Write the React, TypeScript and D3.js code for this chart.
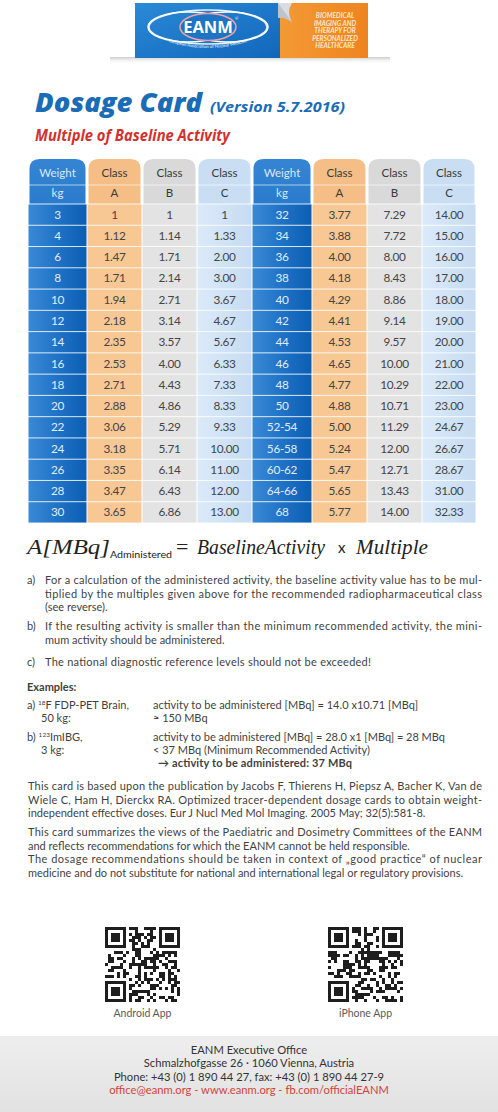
import { useMemo } from "react";
import * as d3 from "d3";

// table data (two halves of 15 rows)
const weights = ["3", "4", "6", "8", "10", "12", "14", "16", "18", "20", "22", "24", "26", "28", "30",
  "32", "34", "36", "38", "40", "42", "44", "46", "48", "50", "52-54", "56-58", "60-62", "64-66", "68"];
const classA = [1, 1.12, 1.47, 1.71, 1.94, 2.18, 2.35, 2.53, 2.71, 2.88, 3.06, 3.18, 3.35, 3.47, 3.65,
  3.77, 3.88, 4.0, 4.18, 4.29, 4.41, 4.53, 4.65, 4.77, 4.88, 5.0, 5.24, 5.47, 5.65, 5.77];
const classB = [1, 1.14, 1.71, 2.14, 2.71, 3.14, 3.57, 4.0, 4.43, 4.86, 5.29, 5.71, 6.14, 6.43, 6.86,
  7.29, 7.72, 8.0, 8.43, 8.86, 9.14, 9.57, 10.0, 10.29, 10.71, 11.29, 12.0, 12.71, 13.43, 14.0];
const classC = [1, 1.33, 2.0, 3.0, 3.67, 4.67, 5.67, 6.33, 7.33, 8.33, 9.33, 10.0, 11.0, 12.0, 13.0,
  14.0, 15.0, 16.0, 17.0, 18.0, 19.0, 20.0, 21.0, 22.0, 23.0, 24.67, 26.67, 28.67, 31.0, 32.33];
const headerTop = ["Weight", "Class", "Class", "Class"];
const headerBottom = ["kg", "A", "B", "C"];

const qrLabels = ["Android App", "iPhone App"];
const footerLines = [
  "EANM Executive Office",
  "Schmalzhofgasse 26  · 1060 Vienna, Austria",
  "Phone: +43 (0) 1 890 44 27, fax: +43 (0) 1 890 44 27-9",
  "office@eanm.org - www.eanm.org - fb.com/officialEANM",
];

const W = 498;
const H = 1112;
const SANS = "Lato, 'Open Sans', sans-serif";
const TITLE = "'Open Sans', Lato, sans-serif";
const SERIF = "'Liberation Serif', 'DejaVu Serif', serif";
const TXT = "#3f3f3f";

const fmt = (v: number) => (v === 1 ? "1" : v.toFixed(2));

function topRounded(x: number, y: number, w: number, h: number, r: number) {
  return `M${x},${y + h}V${y + r}Q${x},${y} ${x + r},${y}H${x + w - r}Q${x + w},${y} ${x + w},${y + r}V${y + h}Z`;
}

// deterministic module pattern for the QR code decoration
function qrModules(seed: number) {
  const n = 25;
  const cells: [number, number][] = [];
  const finder = (i: number, j: number) => {
    const inBox = (a: number, b: number) => {
      const di = i - a, dj = j - b;
      if (di < 0 || dj < 0 || di > 6 || dj > 6) return null;
      const ring = Math.min(di, dj, 6 - di, 6 - dj);
      return ring === 0 || ring >= 2;
    };
    for (const [a, b] of [[0, 0], [0, 18], [18, 0]]) {
      const r = inBox(a, b);
      if (r !== null) return r;
      if (i >= a - 1 && i <= a + 7 && j >= b - 1 && j <= b + 7) return false;
    }
    return null;
  };
  for (let i = 0; i < n; i++) {
    for (let j = 0; j < n; j++) {
      const f = finder(i, j);
      let on: boolean;
      if (f !== null) on = f;
      else {
        let h = (i * 374761393 + j * 668265263 + seed * 982451653) | 0;
        h = Math.imul(h ^ (h >>> 13), 1274126177);
        h ^= h >>> 16;
        on = (h & 7) < 4;
      }
      if (on) cells.push([i, j]);
    }
  }
  return cells;
}

function JText({ x, y, w, children, bold }: { x: number; y: number; w?: number; children: any; bold?: boolean }) {
  return (
    <text x={x} y={y} fontFamily={SANS} fontSize={11} fill={TXT} fontWeight={bold ? 700 : 400}
      {...(w ? { textLength: w, lengthAdjust: "spacing" } : {})}>
      {children}
    </text>
  );
}

export default function App() {
  const colW = [59, 55, 55, 55, 60, 55, 55, 54];
  const colX = [28, ...Array.from(d3.cumsum(colW)).map((s) => 28 + s)];
  const y = d3.scaleBand<number>().domain(d3.range(15)).range([204, 523]);
  const hdrTop = 159;
  const hdrBot = 204;

  const colFill = ["url(#gWeight)", "#f8c894", "#e3e3e3", "url(#gC)"];
  const hdrFill = ["url(#gWeightH)", "#f5be87", "#d9d9d9", "#c9def3"];

  const rows = useMemo(
    () => weights.map((w, i) => ({ w, a: classA[i], b: classB[i], c: classC[i], half: Math.floor(i / 15), r: i % 15 })),
    []
  );

  const qrA = useMemo(() => qrModules(3), []);
  const qrB = useMemo(() => qrModules(11), []);
  const qrPos = [105, 328];
  const qrTop = 927;
  const qs = 3;

  const arc = d3.path();
  arc.moveTo(158, 38);
  arc.quadraticCurveTo(208, 58, 258, 38);

  return (
    <svg width={W} height={H} viewBox={`0 0 ${W} ${H}`} style={{ position: "absolute", left: 0, top: 0, display: "block", background: "#fff" }}>
      <defs>
        <linearGradient id="gWeight" x1="0" x2="1" y1="0" y2="0">
          <stop offset="0" stopColor="#3a89d6" />
          <stop offset="0.5" stopColor="#1f72c6" />
          <stop offset="1" stopColor="#0c5eb3" />
        </linearGradient>
        <linearGradient id="gWeightH" x1="0" x2="0" y1="0" y2="1">
          <stop offset="0" stopColor="#3585d3" />
          <stop offset="1" stopColor="#2a7bcc" />
        </linearGradient>
        <linearGradient id="gC" x1="0" x2="1" y1="0" y2="0">
          <stop offset="0" stopColor="#dbeafa" />
          <stop offset="1" stopColor="#c6dcf2" />
        </linearGradient>
        <linearGradient id="gBlue" x1="0" x2="1" y1="0" y2="1">
          <stop offset="0" stopColor="#2a8ad8" />
          <stop offset="1" stopColor="#1266b9" />
        </linearGradient>
        <linearGradient id="gOrange" x1="0" x2="1" y1="0" y2="0">
          <stop offset="0" stopColor="#f39a35" />
          <stop offset="1" stopColor="#ee8420" />
        </linearGradient>
        <linearGradient id="gShadow" x1="0" x2="0" y1="0" y2="1">
          <stop offset="0" stopColor="#bdbdbd" stopOpacity="0.8" />
          <stop offset="1" stopColor="#ffffff" stopOpacity="0" />
        </linearGradient>
        <linearGradient id="gFooter" x1="0" x2="0" y1="0" y2="1">
          <stop offset="0" stopColor="#eeeeee" />
          <stop offset="1" stopColor="#e2e2e2" />
        </linearGradient>
        <path id="logoArc" d={arc.toString()} />
      </defs>

      {/* logo banner */}
      <rect x={110} y={57} width={280} height={7} fill="url(#gShadow)" />
      <rect x={135} y={3} width={146} height={55} fill="url(#gBlue)" />
      <rect x={280} y={3} width={88} height={55} fill="url(#gOrange)" />
      <path d="M278,3 L292,3 Q286,12 292,22 Q283,16 278,18 Z" fill="#d9dde3" />
      <path d="M278,3 L292,22 Q283,16 278,18 Z" fill="#aab4c0" opacity={0.6} />
      <g fill="none" stroke="#ffffff" strokeWidth={1.5}>
        <ellipse cx={188} cy={27} rx={40} ry={15} />
        <ellipse cx={228} cy={27} rx={40} ry={15} />
        <ellipse cx={208} cy={27} rx={59} ry={17} opacity={0.9} />
      </g>
      <ellipse cx={208} cy={27} rx={28} ry={13.5} fill="#1d74c4" stroke="#e9a0a6" strokeWidth={1.6} />
      <text x={208} y={33} textAnchor="middle" fontFamily={TITLE} fontWeight={700} fontSize={16.5} fill="#fff">EANM</text>
      <text x={235} y={20} fontFamily={SANS} fontSize={4} fill="#fff">®</text>
      <text fontFamily={SANS} fontSize={4.3} fill="#fff">
        <textPath href="#logoArc" startOffset="50%" textAnchor="middle">European Association of Nuclear Medicine</textPath>
      </text>
      <g fontFamily={SANS} fontStyle="italic" fontWeight={700} fontSize={6.6} fill="#fde7c9" textAnchor="middle">
        {["BIOMEDICAL", "IMAGING AND", "THERAPY FOR", "PERSONALIZED", "HEALTHCARE"].map((t, i) => (
          <text key={t} x={335} y={18 + i * 7.6}>{t}</text>
        ))}
      </g>

      {/* title */}
      <text x={35} y={112} fontFamily={TITLE} fontStyle="italic" fontWeight={800} fontSize={27} fill="#1b6cb6"
        textLength={167} lengthAdjust="spacingAndGlyphs">Dosage Card</text>
      <text x={210} y={112} fontFamily={TITLE} fontStyle="italic" fontWeight={700} fontSize={15} fill="#1b6cb6"
        textLength={135} lengthAdjust="spacingAndGlyphs">(Version 5.7.2016)</text>
      <text x={35} y={141} fontFamily={TITLE} fontStyle="italic" fontWeight={700} fontSize={16} fill="#d3312b"
        textLength={195} lengthAdjust="spacingAndGlyphs">Multiple of Baseline Activity</text>

      {/* table columns */}
      {colW.map((w, k) => (
        <g key={k}>
          <path d={topRounded(colX[k] + 1.5, hdrTop, w - 3, hdrBot - hdrTop, 10)} fill={hdrFill[k % 4]} />
          <rect x={colX[k] + 0.5} y={hdrBot} width={w - 1} height={523 - hdrBot} fill={colFill[k % 4]} />
          <text x={colX[k] + w / 2} y={177} textAnchor="middle" fontFamily={SANS} fontSize={11.5}
            fill={k % 4 === 0 ? "#dbe8f7" : "#3a3a3a"}>{headerTop[k % 4]}</text>
          <text x={colX[k] + w / 2} y={197} textAnchor="middle" fontFamily={SANS} fontSize={11.5}
            fill={k % 4 === 0 ? "#dbe8f7" : "#3a3a3a"}>{headerBottom[k % 4]}</text>
        </g>
      ))}
      <line x1={28} x2={476} y1={185} y2={185} stroke="#fff" strokeOpacity={0.6} />
      {d3.range(16).map((r) => (
        <line key={r} x1={28} x2={476} y1={y(r) ?? 523} y2={y(r) ?? 523} stroke="#fff" strokeOpacity={0.85} strokeWidth={1} />
      ))}
      {rows.map((d, i) => {
        const base = d.half * 4;
        const cy = (y(d.r) ?? 0) + y.bandwidth() / 2 + 4;
        const vals = [d.w, fmt(d.a), fmt(d.b), fmt(d.c)];
        return (
          <g key={i} fontFamily={SANS} fontSize={11.8} textAnchor="middle">
            {vals.map((v, k) => (
              <text key={k} x={colX[base + k] + colW[base + k] / 2} y={cy} fill={k === 0 ? "#e2ecf8" : "#454545"}
                letterSpacing={-0.3}>{v}</text>
            ))}
          </g>
        );
      })}

      {/* formula */}
      <g fontFamily={SERIF} fontStyle="italic" fill="#222" fontSize={22}>
        <text x={27} y={554} textLength={83} lengthAdjust="spacingAndGlyphs">A[MBq]</text>
        <text x={110} y={558} fontFamily={SANS} fontStyle="normal" fontSize={9} textLength={62} lengthAdjust="spacingAndGlyphs">Administered</text>
        <text x={176} y={554} fontStyle="normal">=</text>
        <text x={197} y={554} textLength={128} lengthAdjust="spacingAndGlyphs">BaselineActivity</text>
        <text x={338} y={553} fontStyle="normal" fontFamily={SANS} fontSize={15}>x</text>
        <text x={356} y={554} textLength={72} lengthAdjust="spacingAndGlyphs">Multiple</text>
      </g>

      {/* notes */}
      <JText x={27} y={584}>a)</JText>
      <JText x={45} y={584} w={437}>For a calculation of the administered activity, the baseline activity value has to be mul-</JText>
      <JText x={45} y={597.5} w={437}>tiplied by the multiples given above for the recommended radiopharmaceutical class</JText>
      <JText x={45} y={611}>(see reverse).</JText>
      <JText x={27} y={630}>b)</JText>
      <JText x={45} y={630} w={437}>If the resulting activity is smaller than the minimum recommended activity, the mini-</JText>
      <JText x={45} y={643.5}>mum activity should be administered.</JText>
      <JText x={27} y={666}>c)</JText>
      <JText x={45} y={666} w={326}>The national diagnostic reference levels should not be exceeded!</JText>

      <JText x={27} y={691} bold>Examples:</JText>
      <JText x={27} y={709}>a) <tspan fontSize={6.5} dy={-4}>18</tspan><tspan dy={4}>F FDP-PET Brain,</tspan></JText>
      <JText x={41} y={722}>50 kg:</JText>
      <JText x={153} y={709} w={265}>activity to be administered [MBq] = 14.0 x10.71 [MBq]</JText>
      <JText x={153} y={722}>≈ 150 MBq</JText>
      <JText x={27} y={741}>b) <tspan fontSize={6.5} dy={-4}>123</tspan><tspan dy={4}>ImIBG,</tspan></JText>
      <JText x={41} y={754}>3 kg:</JText>
      <JText x={153} y={741} w={292}>activity to be administered [MBq] = 28.0 x1 [MBq] = 28 MBq</JText>
      <JText x={153} y={754}>&lt; 37 MBq (Minimum Recommended Activity)</JText>
      <JText x={158} y={767} bold w={194}>→ activity to be administered: 37 MBq</JText>

      <JText x={28} y={790} w={454}>This card is based upon the publication by Jacobs F, Thierens H, Piepsz A, Bacher K, Van de</JText>
      <JText x={28} y={803.5} w={454}>Wiele C, Ham H, Dierckx RA. Optimized tracer-dependent dosage cards to obtain weight-</JText>
      <JText x={28} y={817}>independent effective doses. Eur J Nucl Med Mol Imaging. 2005 May; 32(5):581-8.</JText>
      <JText x={28} y={836} w={454}>This card summarizes the views of the Paediatric and Dosimetry Committees of the EANM</JText>
      <JText x={28} y={849.5}>and reflects recommendations for which the EANM cannot be held responsible.</JText>
      <JText x={28} y={863} w={454}>The dosage recommendations should be taken in context of „good practice“ of nuclear</JText>
      <JText x={28} y={876.5} w={435}>medicine and do not substitute for national and international legal or regulatory provisions.</JText>

      {/* QR codes */}
      {[qrA, qrB].map((cells, q) => (
        <g key={q}>
          {cells.map(([i, j]) => (
            <rect key={`${i}-${j}`} x={qrPos[q] + j * qs} y={qrTop + i * qs} width={qs} height={qs} fill="#1e1e1e" />
          ))}
          <text x={qrPos[q] + 37.5} y={1017} textAnchor="middle" fontFamily={SANS} fontSize={10.5} fill="#5a5a5a">{qrLabels[q]}</text>
        </g>
      ))}

      {/* footer */}
      <rect x={0} y={1036} width={W} height={H - 1036} fill="url(#gFooter)" />
      {footerLines.map((t, i) => (
        <text key={i} x={249} y={1054 + i * 13.3} textAnchor="middle" fontFamily={SANS} fontSize={11.2}
          fill={i === 3 ? "#d2443a" : "#333"}>{t}</text>
      ))}
    </svg>
  );
}
